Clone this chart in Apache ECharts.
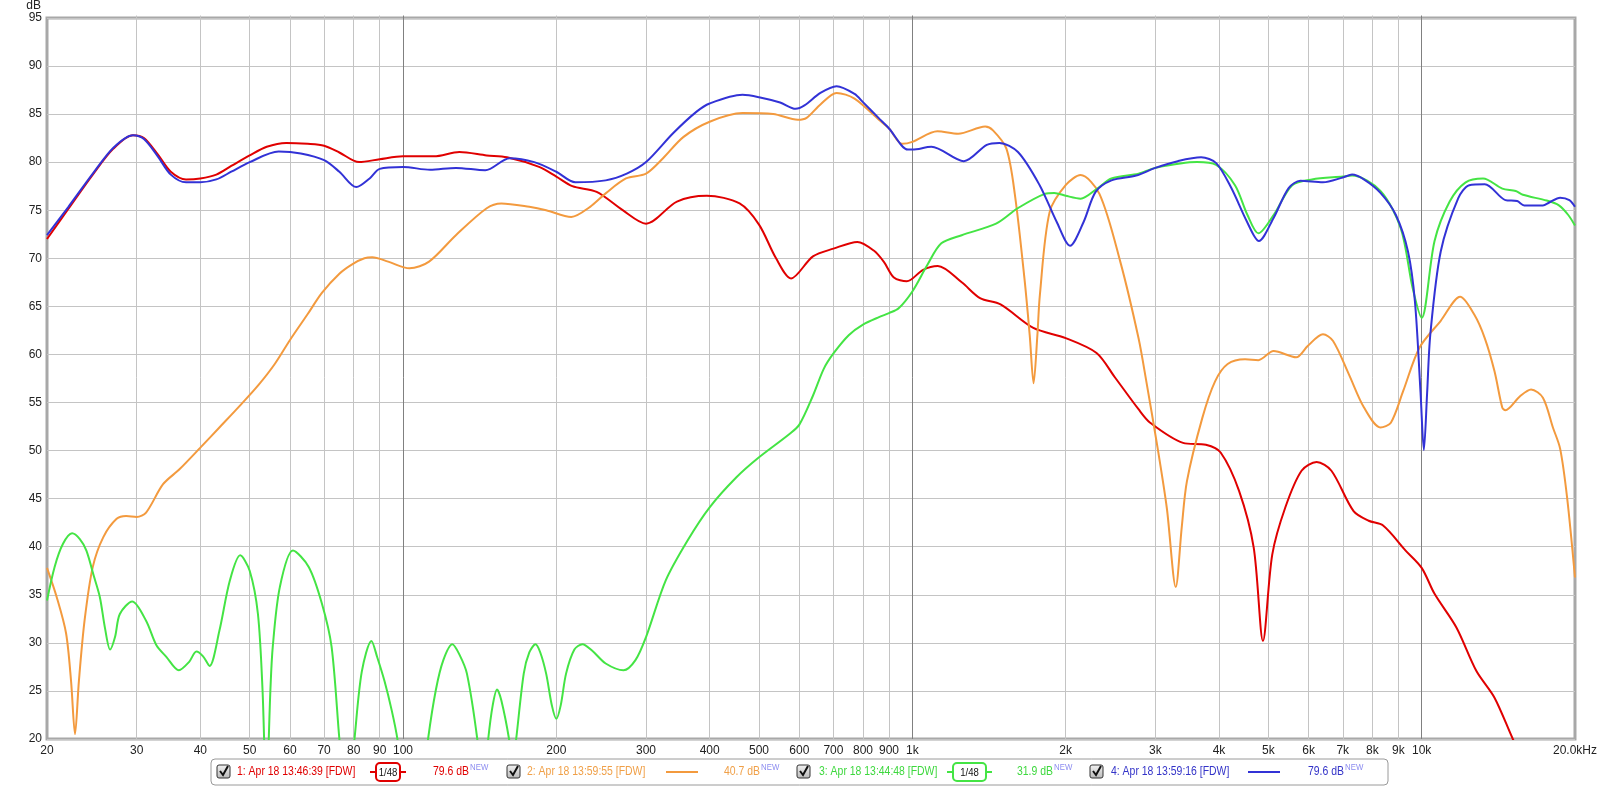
<!DOCTYPE html>
<html><head><meta charset="utf-8">
<script src="https://cdn.jsdelivr.net/npm/echarts@6/dist/echarts.min.js"></script>
<style>html,body{margin:0;padding:0;background:#fff}#c{width:1600px;height:787px}</style>
</head><body><div id="c"></div>
<script>
// ---------- data (frequency Hz, level dB) ----------
const seriesNames = ['1: Apr 18 13:46:39 [FDW]','2: Apr 18 13:59:55 [FDW]','3: Apr 18 13:44:48 [FDW]','4: Apr 18 13:59:16 [FDW]'];
const seriesLevels = ['79.6 dB','40.7 dB','31.9 dB','79.6 dB'];
const seriesSmoothing = ['1/48', null, '1/48', null];

const trace1 = [[20,72.0],[22,75.1],[24.6,78.7],[27,81.4],[29.5,82.8],[31,82.5],[33,80.8],[35,79.0],[37.5,78.2],[40,78.3],[43,78.7],[46,79.6],[50,80.7],[54,81.6],[59,82.0],[65,81.9],[70,81.7],[75,81.0],[82,80.0],[90,80.3],[100,80.6],[115,80.6],[129,81.05],[146,80.7],[160,80.5],[185,79.5],[200,78.5],[215,77.5],[240,76.9],[270,75.0],[300,73.6],[345,75.9],[395,76.5],[458,75.7],[500,73.5],[540,70.0],[578,67.9],[638,70.2],[700,71.0],[780,71.7],[840,70.8],[880,69.6],[920,68.0],[975,67.6],[1050,68.8],[1122,69.2],[1250,67.5],[1358,65.85],[1490,65.2],[1728,62.75],[2000,61.7],[2300,60.15],[2500,57.6],[2780,54.3],[2930,52.9],[3400,50.8],[3770,50.6],[4030,49.8],[4380,45.8],[4680,39.9],[4880,30.2],[5090,39.2],[5400,44.1],[5810,47.9],[6220,48.8],[6650,47.9],[7350,43.7],[7870,42.7],[8400,42.2],[9300,39.6],[10000,37.8],[10600,35.1],[11700,31.6],[12800,27.1],[13900,24.3],[15100,20.0],[15600,18.5]];

const trace2 = [[20,37.8],[20.9,34.75],[21.8,31.0],[22.3,26],[22.7,20.5],[23.1,26],[23.7,32.3],[24.6,37.9],[25.8,41.0],[27.4,42.9],[28.6,43.2],[30,43.1],[31.3,43.55],[33.8,46.5],[36.4,48.05],[40,50.3],[43.6,52.4],[47.9,54.7],[52,56.8],[56,59.0],[60,61.5],[65,64.2],[69.3,66.4],[75,68.4],[79.6,69.4],[84,70.0],[87,70.1],[93.5,69.65],[103,68.95],[112.5,69.65],[127,72.4],[146,75.2],[156,75.7],[177,75.35],[191,75.0],[214,74.3],[233,75.35],[250,76.75],[274,78.3],[300,78.8],[324,80.4],[355,82.6],[400,84.2],[464,85.1],[533,85.0],[596,84.4],[620,84.6],[660,86.0],[710,87.2],[770,86.6],[862,84.35],[900,83.5],[955,81.9],[1000,82.1],[1120,83.2],[1230,82.95],[1390,83.7],[1440,83.3],[1530,81.4],[1590,76.6],[1660,67.9],[1700,62],[1730,57.0],[1760,62],[1780,66.2],[1860,74.8],[2000,77.6],[2140,78.65],[2330,76.7],[2560,69.65],[2780,61.7],[2880,57.2],[3030,50.3],[3160,44],[3290,35.8],[3380,42],[3460,46.8],[3710,53.4],[3930,57.2],[4160,59.0],[4500,59.5],[4780,59.4],[5120,60.35],[5670,59.7],[5980,60.9],[6400,62.1],[6700,61.4],[7200,57.9],[7700,54.5],[8300,52.4],[8700,52.9],[9200,56.2],[9900,60.7],[10900,63.5],[11900,66.0],[12700,64.1],[13300,61.7],[13900,58.25],[14400,54.45],[14600,54.2],[15600,55.65],[16400,56.35],[17300,55.5],[18100,52.4],[18700,50.2],[19300,45.1],[20000,36.8]];

const trace3 = [[20,34.4],[20.7,37.9],[21.5,40.3],[22.4,41.4],[23.2,40.8],[23.9,39.6],[24.7,37.0],[25.4,34.75],[26.0,31.5],[26.6,29.3],[27.2,30.6],[27.8,33.0],[29.4,34.3],[31.3,32.3],[32.8,29.75],[34.3,28.55],[36.3,27.15],[38.0,28.0],[39.3,29.1],[40.5,28.6],[41.7,27.6],[43.6,31.25],[45.7,36.45],[47.9,39.1],[50.0,37.5],[51.9,33.0],[53.0,25],[53.9,14],[54.9,25],[55.5,29.6],[57.3,35.8],[60.8,39.6],[65.3,37.9],[69.3,34.1],[72.4,29.6],[75.0,20],[77.5,12],[80.3,20],[83,27],[86.7,30.2],[89,28.5],[92,26],[95,23],[97.5,20],[105,8],[112,20],[116,25.1],[120,28.2],[125,29.85],[129,28.8],[133.5,26.8],[139.9,20],[143.5,14],[147,20],[150,23.5],[153,25.15],[156,24],[161.5,20],[164,17],[166.8,20],[172.6,26.8],[177,29.0],[182,29.85],[186,29.0],[191,26.8],[196,23.5],[200,22.1],[204,23.5],[209,26.8],[217,29.3],[225,29.85],[235,29.2],[250,27.85],[271,27.15],[286,28.2],[300,30.6],[328,36.5],[362,40.65],[400,44.1],[451,47.2],[500,49.3],[573,51.7],[600,52.7],[638,55.7],[670,58.5],[700,60.1],[750,62.0],[800,63.1],[862,63.9],[900,64.3],[940,64.8],[1000,66.55],[1070,69.3],[1140,71.55],[1250,72.4],[1460,73.6],[1610,75.2],[1820,76.7],[1900,76.8],[2000,76.5],[2140,76.2],[2300,77.2],[2460,78.3],[2780,78.8],[3000,79.4],[3620,80.0],[3950,79.7],[4300,77.6],[4550,74.5],[4780,72.6],[5120,74.5],[5570,77.6],[6090,78.2],[7000,78.5],[7300,78.6],[8300,77.0],[9100,73.1],[9600,66.9],[10000,63.8],[10600,71.8],[11350,75.9],[12200,77.9],[13200,78.3],[14400,77.25],[15300,77.0],[15800,76.6],[17600,76.0],[18600,75.5],[19400,74.5],[20000,73.4]];

const trace4 = [[20,72.4],[22,75.3],[24.6,78.8],[27,81.5],[29.5,82.8],[31,82.4],[33,80.6],[35,78.7],[37.5,77.9],[40,77.9],[43,78.2],[46,79.0],[50,80.0],[57,81.1],[63,80.9],[70,80.2],[75,79.0],[81,77.4],[86,78.3],[90,79.3],[100,79.5],[113,79.2],[127,79.4],[145,79.15],[162,80.4],[181,80.0],[200,79.0],[218,77.9],[250,78.1],[275,78.8],[300,80.0],[339,83.0],[376,85.2],[400,86.1],[464,87.0],[500,86.75],[550,86.2],[590,85.55],[614,85.9],[660,87.2],[710,87.9],[770,87.1],[800,86.24],[862,84.5],[900,83.5],[980,81.3],[1000,81.3],[1090,81.6],[1262,80.1],[1400,81.8],[1482,82.0],[1612,81.05],[1778,77.6],[1920,73.8],[2040,71.3],[2170,73.8],[2290,76.9],[2460,78.1],[2750,78.6],[3000,79.4],[3320,80.1],[3690,80.5],[3950,79.9],[4230,77.3],[4540,73.8],[4790,71.8],[5120,74.2],[5480,77.3],[5780,78.05],[6400,77.9],[7000,78.4],[7300,78.7],[7700,78.2],[8300,76.8],[8900,74.5],[9400,70.7],[9700,65.5],[9950,56],[10100,50.05],[10250,56],[10400,62.1],[10900,70.7],[11800,76.25],[12400,77.6],[13300,77.7],[14600,76.05],[15400,75.95],[15900,75.5],[17300,75.5],[17800,75.8],[18700,76.3],[19500,76.05],[20000,75.35]];

const xTickValues = [20,30,40,50,60,70,80,90,100,200,300,400,500,600,700,800,900,1000,2000,3000,4000,5000,6000,7000,8000,9000,10000,20000];
const xTickLabels = ['20','30','40','50','60','70','80','90','100','200','300','400','500','600','700','800','900','1k','2k','3k','4k','5k','6k','7k','8k','9k','10k','20.0kHz'];
const xMajorValues = [100,1000,10000];
const yTicks = {min:20, max:95, step:5};

// ---------- styles ----------
const colors = ['#e00000','#f39a3e','#44e444','#3232d6'];
const textColors = ['#e00000','#f0a048','#3ed83e','#3434c8'];
const FONT = '"Liberation Sans", Arial, sans-serif';

const gridTop = 15.5, gridBottomPx = 739, gridLeft = 47, gridRight = 1577;
const plotH = gridBottomPx - gridTop;

const lightTickValues = xTickValues.filter(v => xMajorValues.indexOf(v) < 0 && v !== 20 && v !== 20000);
const labelMap = {};
xTickValues.forEach((v, i) => labelMap[v] = xTickLabels[i]);

// ---------- legend (graphic) ----------
const legendLayout = [
  {cb:217, text:237, line:[370,406], box:376, level:433},
  {cb:507, text:527, line:[666,698], box:null, level:724},
  {cb:797, text:819, line:[947,992], box:953, level:1017},
  {cb:1090, text:1111, line:[1248,1280], box:null, level:1308}
];
const LY = 772;
const SX = 0.87;
function narrowText(str, x, y, color, size, z, align) {
  return {type:'text', x:x, y:y, scaleX:SX, scaleY:1.05, z:z,
    style:{text:str, x:0, y:0, fill:color, font:size+'px '+FONT, align:align||'left', verticalAlign:'middle'}};
}
const graphics = [{
  type:'rect', shape:{x:211, y:759, width:1177, height:26, r:4},
  style:{fill:'#fff', stroke:'#9a9a9a', lineWidth:1}, z:10
}];
legendLayout.forEach((L, i) => {
  graphics.push({type:'rect', shape:{x:L.cb, y:LY-7, width:13, height:13, r:2},
    style:{fill:new echarts.graphic.LinearGradient(0,0,0,1,[{offset:0,color:'#f4f4f4'},{offset:1,color:'#b8b8b8'}]), stroke:'#333', lineWidth:1}, z:11});
  graphics.push({type:'polyline', shape:{points:[[L.cb+3,LY-1],[L.cb+6,LY+3],[L.cb+11,LY-6]]},
    style:{stroke:'#111', lineWidth:2, fill:null}, z:12});
  graphics.push(narrowText(seriesNames[i], L.text, LY, textColors[i], 12, 11));
  graphics.push({type:'line', shape:{x1:L.line[0], y1:LY, x2:L.line[1], y2:LY}, style:{stroke:colors[i], lineWidth:2}, z:11});
  if (seriesSmoothing[i]) {
    const bw = (L.line[1]-L.line[0])-12;
    graphics.push({type:'rect', shape:{x:L.box, y:LY-9, width:bw, height:18, r:4},
      style:{fill:'#fff', stroke:colors[i], lineWidth:2}, z:12});
    graphics.push(narrowText(seriesSmoothing[i], L.box+bw/2, LY+1, '#111', 11, 13, 'center'));
  }
  graphics.push(narrowText(seriesLevels[i], L.level, LY, textColors[i], 12, 11));
  graphics.push(narrowText('NEW', L.level+37, LY-5, '#8c8cf0', 9, 11));
});

// ---------- chart ----------
const chart = echarts.init(document.getElementById('c'), null, {renderer:'canvas'});
const xBase = {
  type:'log', logBase:10, min:20, max:20000, gridIndex:0, position:'bottom',
  axisLine:{show:false}, splitLine:{show:false}, minorTick:{show:false}
};
chart.setOption({
  animation:false,
  backgroundColor:'#ffffff',
  grid:{left:gridLeft, right:1600-gridRight, top:gridTop, bottom:787-gridBottomPx, show:true, borderColor:'#a8a8a8', borderWidth:3, backgroundColor:'transparent'},
  xAxis:[
    Object.assign({}, xBase, {
      axisTick:{show:true, inside:true, length:plotH, customValues:lightTickValues, lineStyle:{color:'#c4c4c4', width:1}},
      axisLabel:{show:true, customValues:xTickValues, margin:6, color:'#222', fontSize:12, fontFamily:FONT,
        formatter:function(v){ const k = Math.round(v); return labelMap[k] !== undefined ? labelMap[k] : ''; }}
    }),
    Object.assign({}, xBase, {
      axisTick:{show:true, inside:true, length:plotH, customValues:xMajorValues, lineStyle:{color:'#808080', width:1}},
      axisLabel:{show:false}
    })
  ],
  yAxis:{
    type:'value', min:yTicks.min, max:yTicks.max, interval:yTicks.step,
    name:'dB', nameLocation:'end', nameGap:3,
    nameTextStyle:{color:'#222', fontSize:12, fontFamily:FONT, align:'right', verticalAlign:'bottom', padding:[0,6,0,0]},
    axisLine:{show:false}, axisTick:{show:false},
    axisLabel:{color:'#222', fontSize:12, fontFamily:FONT, margin:5},
    splitLine:{show:true, lineStyle:{color:'#c4c4c4', width:1}}
  },
  series:[trace1, trace2, trace3, trace4].map((d, i) => ({
    name:seriesNames[i], type:'line', xAxisIndex:0, yAxisIndex:0, data:d,
    showSymbol:false, symbol:'none', smooth:0.3, clip:true, z:3+i,
    lineStyle:{color:colors[i], width:2}, itemStyle:{color:colors[i]}
  })),
  graphic:graphics
});
</script></body></html>
